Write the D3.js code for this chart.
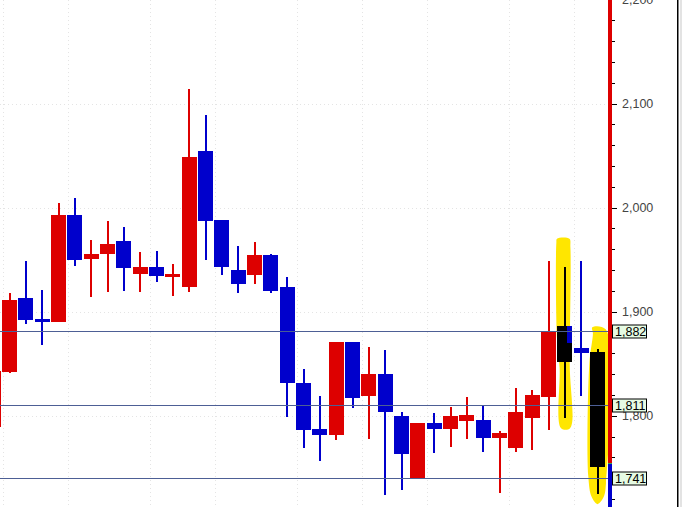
<!DOCTYPE html>
<html><head><meta charset="utf-8">
<script src="https://cdn.jsdelivr.net/npm/d3@7"></script>
<style>body{margin:0;background:#fff;overflow:hidden;} svg{display:block;}</style>
</head><body><svg id="c" width="684" height="507"></svg>
<script>
// ---- data (daily candles, left to right) ----
const opens  = [1789,1842,1913,1893,1890,1993,1951,1955,1968,1936,1943,1933,1924,2054,1988,1940,1935,1954,1924,1831,1787,1781,1871,1819,1840,1800,1740,1793,1787,1795,1796,1779,1769,1798,1818,1886,1865,1861];
const highs  = [1850,1918,1949,1921,2004,2009,1969,1987,1981,1957,1958,1946,2114,2089,1988,1963,1967,1955,1933,1845,1819,1871,1871,1866,1863,1804,1793,1803,1808,1818,1809,1785,1827,1825,1949,1943,1949,1864];
const lows   = [1785,1841,1888,1868,1890,1944,1914,1919,1920,1919,1928,1915,1919,1950,1935,1918,1927,1918,1799,1769,1756,1777,1807,1778,1724,1729,1740,1764,1770,1778,1765,1726,1765,1767,1786,1798,1819,1725];
const closes = [1843,1911,1892,1890,1993,1950,1955,1965,1942,1943,1934,1936,2049,1987,1943,1927,1954,1920,1831,1786,1781,1871,1817,1840,1804,1763,1793,1787,1800,1801,1779,1783,1804,1820,1881,1852,1860,1751];
const weekStarts = [1,5,10,14,19,23,27,32,36];
const majorTicks = [1800,1900,2000,2100,2200];
const refLevels = [1882,1811,1741];
const axisSplit = 1755;
const markedCandles = [35,37];
// highlight outlines: [candle offset, price]
const highlight35 = [[-0.48,1970],[0.28,1970],[0.34,1962],[0.3,1850],[0.32,1788],[-0.23,1788],[-0.32,1846],[-0.48,1874],[-0.52,1966]];
const highlight37 = [[-0.32,1885],[0.5,1883],[0.52,1735],[0.38,1722],[0,1715],[-0.36,1722],[-0.56,1741],[-0.5,1850],[-0.28,1879]];

// ---- scales ----
const W = 684, H = 507;
const x = d3.scaleLinear().domain([0, 37]).range([-6.83, 597.5]);
const y = d3.scaleLinear().domain([1800, 2100]).range([415.7, 103.5]);
const bodyW = 15;
const svg = d3.select('#c');
const RED = '#dd0000', BLUE = '#0000cc';

// ---- grid ----
const grid = svg.append('g').attr('stroke', '#e4e4e4').attr('stroke-width', 1).attr('stroke-dasharray', '1,3');
grid.selectAll('line.h').data(majorTicks).join('line').attr('class','h')
  .attr('x1', 0).attr('x2', 606).attr('y1', d => Math.round(y(d)) + 0.5).attr('y2', d => Math.round(y(d)) + 0.5);
grid.selectAll('line.v').data(weekStarts).join('line').attr('class','v')
  .attr('x1', d => Math.round(x(d) - 7) + 0.5).attr('x2', d => Math.round(x(d) - 7) + 0.5).attr('y1', 0).attr('y2', H);

// ---- candles ----
const idx = d3.range(opens.length);
const cg = svg.append('g').attr('shape-rendering', 'crispEdges');
const col = i => closes[i] >= opens[i] ? RED : BLUE;
cg.selectAll('rect.w').data(idx).join('rect').attr('class','w')
  .attr('x', i => Math.round(x(i)) - 1).attr('width', 2)
  .attr('y', i => y(highs[i])).attr('height', i => y(lows[i]) - y(highs[i]))
  .attr('fill', col);
cg.selectAll('rect.b').data(idx).join('rect').attr('class','b')
  .attr('x', i => Math.round(x(i) - bodyW / 2)).attr('width', bodyW)
  .attr('y', i => y(Math.max(opens[i], closes[i])))
  .attr('height', i => Math.max(2, Math.abs(y(opens[i]) - y(closes[i]))))
  .attr('fill', col);

// ---- highlight marks ----
const hl = d3.line().x(d => d.x).y(d => d.y).curve(d3.curveCatmullRomClosed);
[[35, highlight35], [37, highlight37]].forEach(([ci, pts]) => {
  svg.append('path')
    .attr('d', hl(pts.map(p => ({x: x(ci + p[0]), y: y(p[1])}))))
    .attr('fill', '#ffe600');
});
const mg = svg.append('g').attr('shape-rendering', 'crispEdges');
markedCandles.forEach(i => {
  mg.append('rect').attr('x', Math.round(x(i)) - 1).attr('width', 2)
    .attr('y', y(highs[i])).attr('height', y(lows[i]) - y(highs[i])).attr('fill', '#000');
  mg.append('rect').attr('x', Math.round(x(i) - bodyW / 2)).attr('width', bodyW)
    .attr('y', y(Math.max(opens[i], closes[i])))
    .attr('height', Math.abs(y(opens[i]) - y(closes[i]))).attr('fill', '#000');
});
// original blue edge still showing on candle 35
mg.append('rect').attr('x', Math.round(x(35) + 2.5)).attr('width', 5)
  .attr('y', y(opens[35])).attr('height', y(1870) - y(opens[35])).attr('fill', BLUE);

// ---- reference lines ----
svg.append('g').selectAll('line').data(refLevels).join('line')
  .attr('x1', 0).attr('x2', 612)
  .attr('y1', d => Math.round(y(d)) + 1.5).attr('y2', d => Math.round(y(d)) + 1.5)
  .attr('stroke', '#4d5f95').attr('stroke-width', 1.2);

// ---- right price axis ----
const ax = svg.append('g').attr('shape-rendering', 'crispEdges');
ax.append('rect').attr('x', 608).attr('width', 4).attr('y', 0).attr('height', y(axisSplit)).attr('fill', RED);
ax.append('rect').attr('x', 608).attr('width', 4).attr('y', y(axisSplit)).attr('height', 1).attr('fill', '#33aa55');
ax.append('rect').attr('x', 608).attr('width', 4).attr('y', y(axisSplit) + 1).attr('height', H - y(axisSplit)).attr('fill', BLUE);
const minor = d3.range(1720, 2221, 20);
ax.selectAll('line.t').data(minor).join('line').attr('class','t')
  .attr('x1', 612).attr('x2', d => d % 100 === 0 ? 617 : 615)
  .attr('y1', d => Math.round(y(d)) + 0.5).attr('y2', d => Math.round(y(d)) + 0.5)
  .attr('stroke', '#000').attr('stroke-width', 1);
const fmt = d3.format(',');
svg.append('g').selectAll('text').data(majorTicks).join('text')
  .attr('x', 622).attr('y', d => y(d) + 4.5)
  .attr('font-family', 'Liberation Sans, Arial, sans-serif').attr('font-size', 12.5)
  .attr('fill', '#444').text(d => fmt(d));

// ---- reference labels ----
const lg = svg.append('g');
refLevels.forEach(v => {
  const yy = Math.round(y(v)) + 1.5;
  lg.append('rect').attr('x', 612.5).attr('y', yy - 6.5).attr('width', 34).attr('height', 13)
    .attr('fill', '#e6fbe3').attr('stroke', '#000').attr('stroke-width', 1);
  lg.append('text').attr('x', 615).attr('y', yy + 4.5)
    .attr('font-family', 'Liberation Sans, Arial, sans-serif').attr('font-size', 12.5)
    .attr('fill', '#000').text(fmt(v));
});

// ---- right frame ----
svg.append('rect').attr('x', 677).attr('y', 0).attr('width', 1.5).attr('height', H).attr('fill', '#000');
svg.append('rect').attr('x', 680.5).attr('y', 0).attr('width', 1).attr('height', H).attr('fill', '#c8c8c8');
</script>
</body></html>
